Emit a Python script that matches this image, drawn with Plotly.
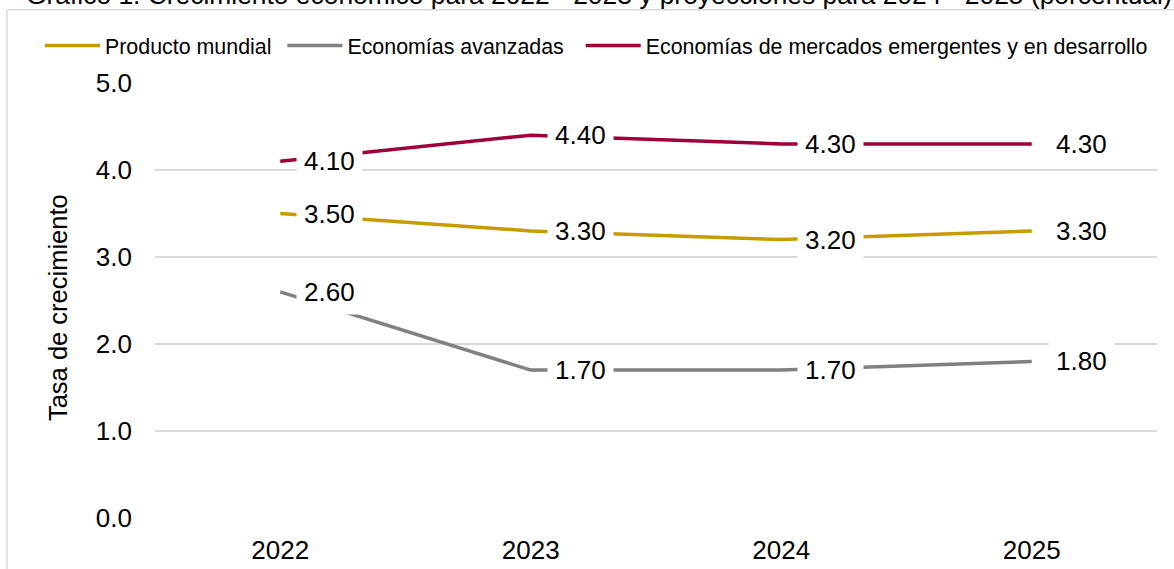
import plotly.graph_objects as go

# ---- data ----
years = ["2022", "2023", "2024", "2025"]
mundial = [3.50, 3.30, 3.20, 3.30]
avanzadas = [2.60, 1.70, 1.70, 1.80]
emergentes = [4.10, 4.40, 4.30, 4.30]
series_names = ["Producto mundial", "Economías avanzadas",
                "Economías de mercados emergentes y en desarrollo"]
series_colors = ["#C69C00", "#808080", "#9E0039"]
y_ticks = [0, 1, 2, 3, 4, 5]
title_text = ("Gráfico 1. Crecimiento económico para 2022 - 2023 y "
              "proyecciones para 2024 - 2025 (porcentual)")
y_title = "Tasa de crecimiento"

# ---- layout geometry (pixels) ----
W, H = 1174, 569
L, R = 155.0, 1156.7
T, B = 82.5, 518.3


def px(x):
    return (x - L) / (R - L)


def py(y):
    return (B - y) / (B - T)


FONT = "Liberation Sans, Arial, sans-serif"
NB = "\u00a0"
legend_pad = [NB, NB * 2, ""]

fig = go.Figure()
all_series = [mundial, avanzadas, emergentes]
for name, vals, col, pad in zip(series_names, all_series, series_colors, legend_pad):
    fig.add_trace(go.Scatter(x=years, y=vals, mode="lines", name=name + pad,
                             line=dict(color=col, width=3.5),
                             hoverinfo="skip"))

annotations = []
for vals in all_series:
    for i, v in enumerate(vals):
        annotations.append(dict(x=i, y=v, xref="x", yref="y",
                                text=f"{v:.2f}", showarrow=False,
                                xanchor="left", yanchor="middle", xshift=16,
                                bgcolor="white", borderpad=7,
                                font=dict(family=FONT, size=26, color="#000000")))

annotations.append(dict(x=px(24), y=py(11), xref="paper", yref="paper",
                        text=title_text, showarrow=False,
                        xanchor="left", yanchor="bottom",
                        font=dict(family=FONT, size=26.4, color="#000000")))

annotations.append(dict(x=px(57.5), y=py(307.5), xref="paper", yref="paper",
                        text=y_title, showarrow=False, textangle=-90,
                        xanchor="center", yanchor="middle",
                        font=dict(family=FONT, size=25.5, color="#000000")))

shapes = [
    dict(type="line", xref="paper", yref="paper", x0=px(7), x1=px(7),
         y0=py(9), y1=py(590), line=dict(color="#D9D9D9", width=1.5)),
    dict(type="line", xref="paper", yref="paper", x0=px(7), x1=px(1200),
         y0=py(9), y1=py(9), line=dict(color="#D9D9D9", width=1.5)),
]

fig.update_layout(
    width=W, height=H,
    margin=dict(l=L, r=W - R, t=T, b=H - B, pad=0, autoexpand=False),
    paper_bgcolor="white", plot_bgcolor="white",
    font=dict(family=FONT, color="#000000"),
    showlegend=True,
    legend=dict(orientation="h", x=px(40), y=py(45), xanchor="left",
                yanchor="middle", font=dict(family=FONT, size=21.4),
                bgcolor="rgba(0,0,0,0)", itemwidth=55, tracegroupgap=0),
    annotations=annotations,
    shapes=shapes,
    xaxis=dict(type="category", range=[-0.5, 3.5], showgrid=False,
               showline=False, zeroline=False, ticks="", automargin=False,
               tickfont=dict(family=FONT, size=26), ticklabelstandoff=14),
    yaxis=dict(range=[0, 5], tickvals=y_ticks, tickformat=".1f",
               showgrid=True, gridcolor="#D9D9D9", gridwidth=1.5,
               zeroline=False, showline=False, ticks="", automargin=False,
               tickfont=dict(family=FONT, size=26), ticklabelstandoff=22),
)

fig.write_html("out.html", config={"displayModeBar": False},
               post_script="document.body.style.margin='0';document.body.style.overflow='hidden';")
